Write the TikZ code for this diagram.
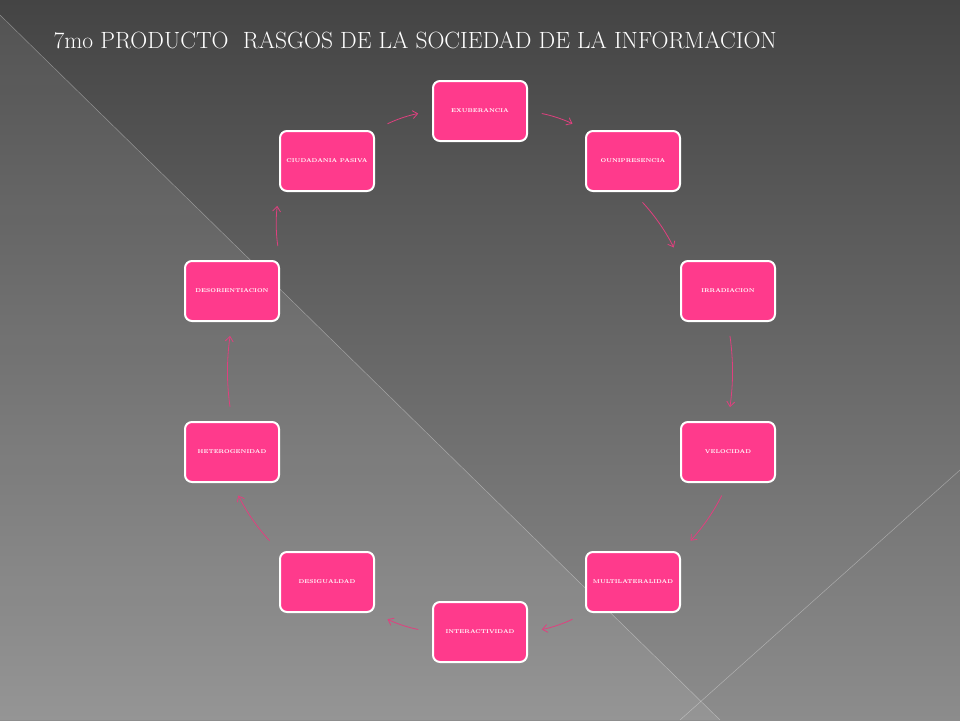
\documentclass[tikz,border=0pt]{standalone}
\usepackage{tikz}
\usetikzlibrary{arrows.meta}
\definecolor{boxpink}{HTML}{FF3A8C}
\definecolor{arrowpink}{HTML}{E0407F}
\definecolor{bgtop}{HTML}{444444}
\definecolor{bgbot}{HTML}{8C8C8C}
\tikzset{
  rasgo/.style={draw=white, line width=2pt, fill=boxpink, rounded corners=7pt,
    minimum width=94pt, minimum height=60pt, text=white, font=\fontsize{5.5}{6}\selectfont\bfseries},
  flecha/.style={draw=arrowpink, line width=0.8pt, -{Straight Barb[length=5pt,width=8pt]},
    shorten <=14pt, shorten >=14pt}
}
\begin{document}
\begin{tikzpicture}[x=1pt,y=-1pt]
% background
\shade[top color=bgtop, bottom color=bgbot] (0,0) rectangle (960,720);
\useasboundingbox (0,0) rectangle (960,720);
\fill[white, opacity=0.08] (0,15) -- (720,720) -- (0,720) -- cycle;
\draw[white, opacity=0.35, line width=0.5pt] (0,15) -- (720,720);
\draw[white, opacity=0.35, line width=0.5pt] (680,720) -- (960,470);

% title
\node[anchor=west, text=white, font=\fontsize{23.5}{26}\selectfont] (titulo) at (50,40)
  {7mo PRODUCTO\ \ RASGOS DE LA SOCIEDAD DE LA INFORMACION};

% nodes
\node[rasgo] (exu) at (480,111) {EXUBERANCIA};
\node[rasgo] (oun) at (633,161) {OUNIPRESENCIA};
\node[rasgo] (irr) at (728,291) {IRRADIACION};
\node[rasgo] (vel) at (728,452) {VELOCIDAD};
\node[rasgo] (mul) at (633,582) {MULTILATERALIDAD};
\node[rasgo] (int) at (480,632) {INTERACTIVIDAD};
\node[rasgo] (des) at (327,582) {DESIGUALDAD};
\node[rasgo] (het) at (232,452) {HETEROGENIDAD};
\node[rasgo] (dso) at (232,291) {DESORIENTIACION};
\node[rasgo] (ciu) at (327,161) {CIUDADANIA PASIVA};

% arrows
\draw[flecha] (ciu.north east) to[bend left=8] (exu.west);
\draw[flecha] (exu.east) to[bend left=8] (oun.north west);
\draw[flecha] (oun.south) to[bend left=8] (irr.north west);
\draw[flecha] (irr.south) to[bend left=8] (vel.north);
\draw[flecha] (vel.south) to[bend left=8] (mul.north east);
\draw[flecha] (mul.south west) to[bend left=8] (int.east);
\draw[flecha] (int.west) to[bend left=8] (des.south east);
\draw[flecha] (des.north west) to[bend left=8] (het.south);
\draw[flecha] (het.north) to[bend left=8] (dso.south);
\draw[flecha] (dso.north east) to[bend left=8] (ciu.south west);
\end{tikzpicture}
\end{document}
